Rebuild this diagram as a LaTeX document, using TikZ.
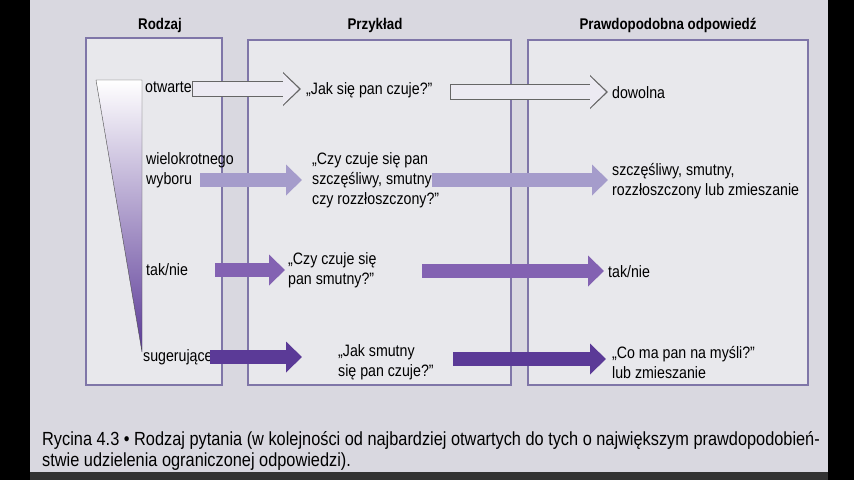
\documentclass[tikz,border=0pt]{standalone}
\usepackage{fontspec}
\setmainfont[FakeStretch=0.86]{Liberation Sans}
\usetikzlibrary{arrows.meta,positioning}
\definecolor{page}{HTML}{D9D8E0}
\definecolor{frame}{HTML}{7F76A8}
\definecolor{rowA}{HTML}{ECEAF2}
\definecolor{rowB}{HTML}{A59CCB}
\definecolor{rowC}{HTML}{8362B2}
\definecolor{rowD}{HTML}{5B3A97}
\begin{document}
\begin{tikzpicture}
		[x=1pt,y=-1pt,
		col/.style={draw=frame,line width=2.5pt,fill=page!60!white},
		head/.style={font=\fontsize{15.5}{18}\selectfont\bfseries},
		txt/.style={font=\fontsize{16.5}{20}\selectfont,align=left,anchor=west,inner sep=0pt},
		blk/.style={line width=14pt,-{Triangle[length=16pt,width=30pt]}},
		blkedge/.style={draw=black!60,line width=16pt,-{Triangle[length=18pt,width=33pt]}}]
		
		\useasboundingbox (0,0) rectangle (854,480);
		\fill[page] (0,0) rectangle (854,480);
		\fill[black] (0,0) rectangle (30,480);
		\fill[black] (828,0) rectangle (854,480);
		\fill[black!80] (30,472) rectangle (828,480);
		
		% columns
		\draw[col] (86,38) rectangle (222,385);
		\draw[col] (248,40) rectangle (511,385);
		\draw[col] (528,40) rectangle (808,385);
		\node[head] (hRodzaj) at (160,25) {Rodzaj};
		\node[head] (hPrzyklad) at (375,25) {Przykład};
		\node[head] (hOdp) at (668,25) {Prawdopodobna odpowiedź};
		
		% wedge
		\shade[top color=white,bottom color=rowD,draw=black!70,thin]
			(96,80) -- (142,80) -- (142,352) -- cycle;
		
		% kinds
		\node[txt] (k1) at (145,87) {otwarte};
		\node[txt] (k2) at (146,170) {wielokrotnego\\wyboru};
		\node[txt] (k3) at (146,270) {tak/nie};
		\node[txt] (k4) at (143,357) {sugerujące};
		
		% examples
		\node[txt] (e1) at (306,90) {„Jak się pan czuje?''};
		\node[txt] (e2) at (312,180) {„Czy czuje się pan\\szczęśliwy, smutny\\czy rozzłoszczony?''};
		\node[txt] (e3) at (288,270) {„Czy czuje się\\pan smutny?''};
		\node[txt] (e4) at (338,362) {„Jak smutny\\się pan czuje?''};
		
		% answers
		\node[txt] (a1) at (612,93) {dowolna};
		\node[txt] (a2) at (612,181) {szczęśliwy, smutny,\\rozzłoszczony lub zmieszanie};
		\node[txt] (a3) at (608,272) {tak/nie};
		\node[txt] (a4) at (612,362) {„Co ma pan na myśli?''\\lub zmieszanie};
		
		\coordinate (p1) at (192,89);  \coordinate (q1) at (450,92);
		\coordinate (p2) at (200,180); \coordinate (q2) at (432,180);
		\coordinate (p3) at (215,270); \coordinate (q3) at (422,271);
		\coordinate (p4) at (210,357); \coordinate (q4) at (453,359);
		
		\draw[blkedge] (p1) -- ([xshift=-5pt]p1 -| e1.west);
		\draw[blk,draw=rowA] ([xshift=1pt]p1) -- ([xshift=-7pt]p1 -| e1.west);
		\draw[blkedge] (q1) -- ([xshift=-4pt]q1 -| a1.west);
		\draw[blk,draw=rowA] ([xshift=1pt]q1) -- ([xshift=-6pt]q1 -| a1.west);
		\draw[blk,draw=rowB] (p2) -- ([xshift=-10pt]p2 -| e2.west);
		\draw[blk,draw=rowB] (q2) -- ([xshift=-4pt]q2 -| a2.west);
		\draw[blk,draw=rowC] (p3) -- ([xshift=-3pt]p3 -| e3.west);
		\draw[blk,draw=rowC] (q3) -- ([xshift=-4pt]q3 -| a3.west);
		\draw[blk,draw=rowD] (p4) -- ([xshift=-36pt]p4 -| e4.west);
		\draw[blk,draw=rowD] (q4) -- ([xshift=-6pt]q4 -| a4.west);
		
		% caption
		\node[txt,font=\fontsize{19}{21}\selectfont,anchor=north west] (cap) at (42,431)
			{Rycina 4.3 • Rodzaj pytania (w kolejności od najbardziej otwartych do tych o największym prawdopodobień-\\stwie udzielenia ograniczonej odpowiedzi).};
		
	\end{tikzpicture}
\end{document}
